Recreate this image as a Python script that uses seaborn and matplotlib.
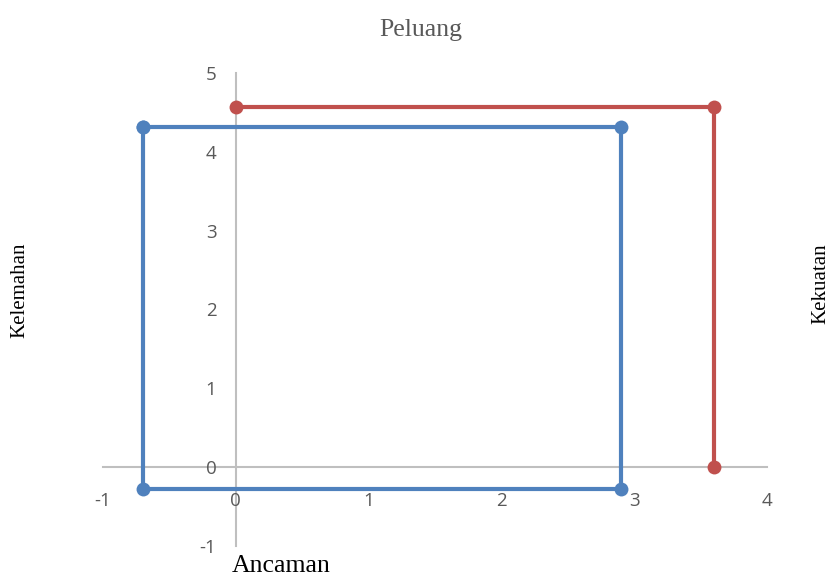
import numpy as np
import pandas as pd
import matplotlib
matplotlib.use("Agg")
import matplotlib.pyplot as plt
import seaborn as sns

# series values
blue_x = [-0.7, 2.9, 2.9, -0.7, -0.7]
blue_y = [4.31, 4.31, -0.28, -0.28, 4.31]
red_x = [0, 3.6, 3.6]
red_y = [4.57, 4.57, 0]

x_ticks = [-1, 0, 1, 2, 3, 4]
y_ticks = [-1, 0, 1, 2, 3, 4, 5]

df = pd.DataFrame({
    "x": blue_x + red_x,
    "y": blue_y + red_y,
    "series": ["blue"] * len(blue_x) + ["red"] * len(red_x),
})

sns.set_style("white")
plt.rcParams["axes.unicode_minus"] = False
fig = plt.figure(figsize=(8.35, 5.78), dpi=100)
ax = fig.add_axes([103 / 835, 1 - 546 / 578, 664 / 835, 473 / 578])

sns.lineplot(data=df, x="x", y="y", hue="series", sort=False, estimator=None,
             palette={"blue": "#4F81BD", "red": "#C0504D"},
             marker="o", markersize=10, markeredgewidth=0, linewidth=3,
             legend=False, ax=ax)

ax.set_xlim(-1, 4)
ax.set_ylim(-1, 5)
ax.set_xticks(x_ticks)
ax.set_yticks(y_ticks)
ax.set_xlabel("")
ax.set_ylabel("")

for s in ["top", "right"]:
    ax.spines[s].set_visible(False)
ax.spines["left"].set_position(("data", 0))
ax.spines["bottom"].set_position(("data", 0))
for s in ["left", "bottom"]:
    ax.spines[s].set_color("#BFBFBF")
    ax.spines[s].set_linewidth(1.5)
    ax.spines[s].set_zorder(0)

ax.tick_params(axis="both", length=0, labelsize=13.5, labelcolor="#595959")
ax.tick_params(axis="y", pad=14)
ax.tick_params(axis="x", pad=18)
for lab in ax.get_xticklabels() + ax.get_yticklabels():
    lab.set_fontfamily("Open Sans")

serif = "Liberation Serif"
fig.text(421 / 835, 1 - 30 / 578, "Peluang", ha="center", va="center",
         fontsize=18.5, color="#595959", family=serif)
fig.text(281 / 835, 1 - 566 / 578, "Ancaman", ha="center", va="center",
         fontsize=18.5, color="black", family=serif)
fig.text(20 / 835, 1 - 290 / 578, "Kelemahan", ha="center", va="center",
         fontsize=15, color="black", rotation=90, family=serif)
fig.text(821 / 835, 1 - 284 / 578, "Kekuatan", ha="center", va="center",
         fontsize=15, color="black", rotation=90, family=serif)

fig.savefig("out.png", dpi=100)
